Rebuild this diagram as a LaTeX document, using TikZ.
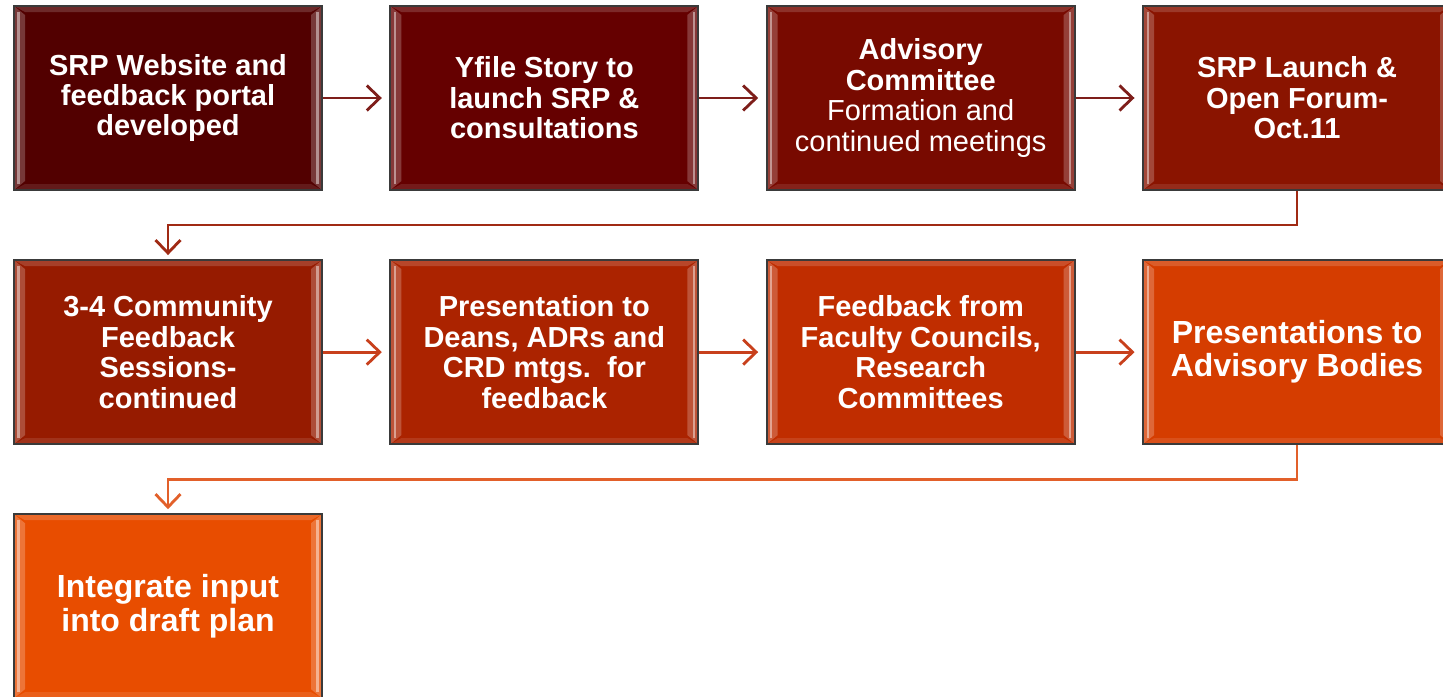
\documentclass[tikz,border=0pt]{standalone}
\usepackage{fontspec}
\setmainfont{Liberation Sans}
\usepackage{tikz}
\usetikzlibrary{arrows.meta,positioning,calc}
\definecolor{Edge}{HTML}{3A3A3A}
\definecolor{StepA}{HTML}{520000}
\definecolor{StepB}{HTML}{650000}
\definecolor{StepC}{HTML}{780A00}
\definecolor{StepD}{HTML}{8A1400}
\definecolor{StepE}{HTML}{961B00}
\definecolor{StepF}{HTML}{AB2300}
\definecolor{StepG}{HTML}{C02D00}
\definecolor{StepH}{HTML}{D53D00}
\definecolor{StepI}{HTML}{E84D00}
\definecolor{LinkA}{HTML}{7E1E1A}
\definecolor{LinkB}{HTML}{A02A14}
\definecolor{LinkC}{HTML}{C8401C}
\definecolor{LinkD}{HTML}{E2602A}
\tikzset{
  bevel/.style={path picture={
    \coordinate (bw) at (path picture bounding box.north west);
    \coordinate (be) at (path picture bounding box.south east);
    \fill[white,opacity=.22] (bw) -- ($(bw)+(.22,-.18)$) -- ($(bw|-be)+(.22,.18)$) -- (bw|-be) -- cycle;
    \fill[white,opacity=.22] (be) -- ($(be)+(-.22,.18)$) -- ($(be|-bw)+(-.22,-.18)$) -- (be|-bw) -- cycle;
    \fill[white,opacity=.16] (bw) -- (be|-bw) -- ($(be|-bw)+(-.22,-.12)$) -- ($(bw)+(.22,-.12)$) -- cycle;
    \fill[white,opacity=.10] (bw|-be) -- (be) -- ($(be)+(-.22,.12)$) -- ($(bw|-be)+(.22,.12)$) -- cycle;
    \draw[white,opacity=.45,line width=1.2pt] ($(bw)+(.09,-.12)$) -- ($(bw|-be)+(.09,.12)$);
    \draw[white,opacity=.45,line width=1.2pt] ($(be)+(-.09,.12)$) -- ($(be|-bw)+(-.09,-.12)$);
  }},
  stepbox/.style={draw=Edge,line width=1.2pt,minimum width=6.16cm,minimum height=3.68cm,
    align=center,text=white,font=\fontsize{16.5}{17.3}\selectfont\bfseries,bevel},
  stepbig/.style={stepbox,font=\fontsize{18.2}{18.8}\selectfont\bfseries},
  link/.style={-{Straight Barb[length=2.6mm,width=5mm]},line width=1.6pt,shorten >=1.5mm}
}
\begin{document}
\begin{tikzpicture}[node distance=1.36cm and 1.325cm]
\useasboundingbox[fill=white] (0,0) rectangle (28.86,-13.94);
\node[stepbox,fill=StepA] (web) at (3.36,-1.96) {SRP Website and\\feedback portal\\developed};
\node[stepbox,fill=StepB,right=of web] (story) {Yfile Story to\\launch SRP \&\\consultations};
\node[stepbox,fill=StepC,right=of story] (advisory) {Advisory\\Committee\\\mdseries Formation and\\\mdseries continued meetings};
\node[stepbox,fill=StepD,right=of advisory] (launch) {SRP Launch \&\\Open Forum-\\Oct.11};
\node[stepbox,fill=StepE,below=of web] (sessions) {3-4 Community\\Feedback\\Sessions-\\continued};
\node[stepbox,fill=StepF,right=of sessions] (deans) {Presentation to\\Deans, ADRs and\\CRD mtgs.\ \ for\\feedback};
\node[stepbox,fill=StepG,right=of deans] (councils) {Feedback from\\Faculty Councils,\\Research\\Committees};
\node[stepbig,fill=StepH,right=of councils] (bodies) {Presentations to\\Advisory Bodies};
\node[stepbig,fill=StepI,below=of sessions] (draft) {Integrate input\\into draft plan};
\coordinate (turnA) at ($(launch.south)!.5!(sessions.north)$);
\coordinate (turnB) at ($(bodies.south)!.5!(draft.north)$);
\draw[link,draw=LinkA] (web) -- (story);
\draw[link,draw=LinkA] (story) -- (advisory);
\draw[link,draw=LinkA] (advisory) -- (launch);
\draw[link,draw=LinkB,shorten >=0.8mm] (launch.south) |- (turnA) -| (sessions.north);
\draw[link,draw=LinkC] (sessions) -- (deans);
\draw[link,draw=LinkC] (deans) -- (councils);
\draw[link,draw=LinkC] (councils) -- (bodies);
\draw[link,draw=LinkD,shorten >=0.8mm] (bodies.south) |- (turnB) -| (draft.north);
\end{tikzpicture}
\end{document}
